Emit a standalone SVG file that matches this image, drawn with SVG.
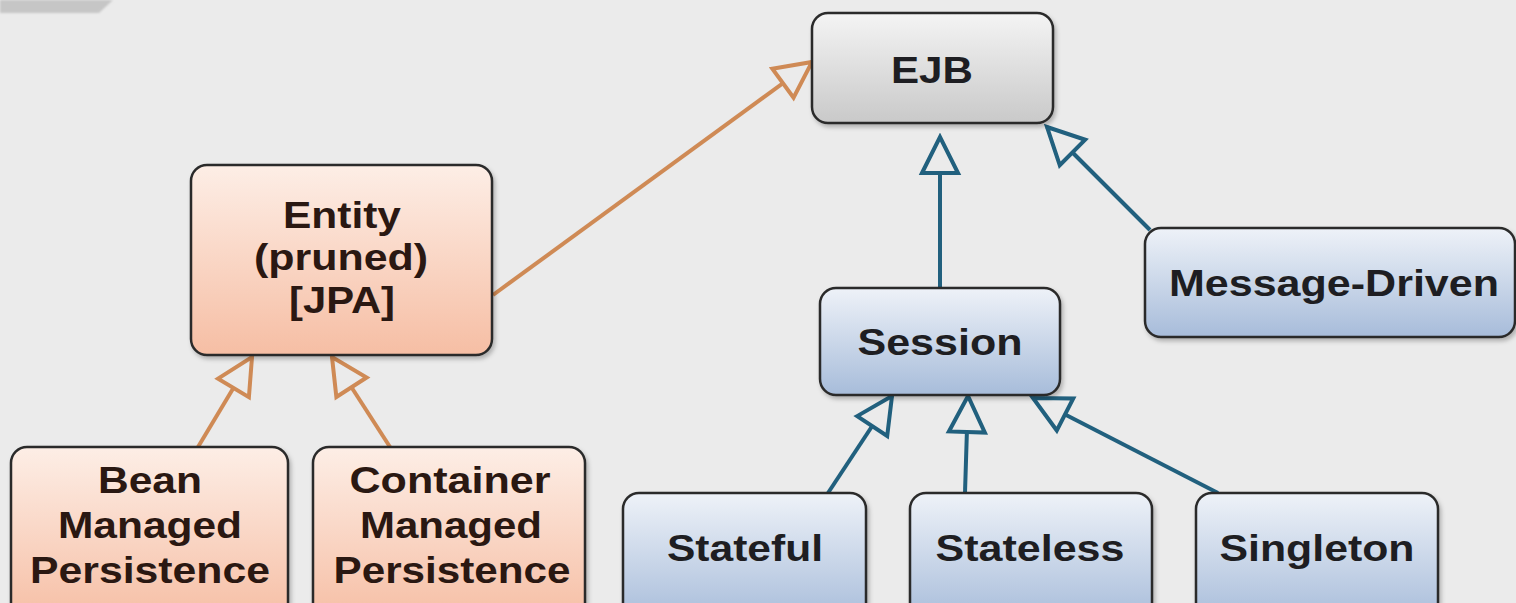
<svg xmlns="http://www.w3.org/2000/svg" width="1516" height="603" viewBox="0 0 1516 603">
  <defs>
    <linearGradient id="gGray" x1="0" y1="0" x2="0" y2="1">
      <stop offset="0" stop-color="#f4f4f4"/>
      <stop offset="1" stop-color="#c9c9c9"/>
    </linearGradient>
    <linearGradient id="gOrange" x1="0" y1="0" x2="0" y2="1">
      <stop offset="0" stop-color="#fdeee6"/>
      <stop offset="1" stop-color="#f6bea4"/>
    </linearGradient>
    <linearGradient id="gBlue" x1="0" y1="0" x2="0" y2="1">
      <stop offset="0" stop-color="#eef2f8"/>
      <stop offset="1" stop-color="#a7bcda"/>
    </linearGradient>
    <filter id="shadow" x="-10%" y="-10%" width="130%" height="130%">
      <feDropShadow dx="2" dy="3" stdDeviation="2" flood-color="#000" flood-opacity="0.25"/>
    </filter>
    <filter id="soft"><feGaussianBlur stdDeviation="1.2"/></filter>
    <marker id="triOrange" viewBox="-4 -4 44 44" markerWidth="44" markerHeight="44" refX="36" refY="18" orient="auto" markerUnits="userSpaceOnUse">
      <path d="M0,0 L36,18 L0,36 Z" fill="#ebebeb" stroke="#cf8a55" stroke-width="4" stroke-linejoin="miter"/>
    </marker>
    <marker id="triBlue" viewBox="-4 -4 44 44" markerWidth="44" markerHeight="44" refX="36" refY="18" orient="auto" markerUnits="userSpaceOnUse">
      <path d="M0,0 L36,18 L0,36 Z" fill="#ebebeb" stroke="#21607e" stroke-width="4" stroke-linejoin="miter"/>
    </marker>
  </defs>
  <style>
    .node { stroke: #2b2b2b; stroke-width: 2.5; filter: url(#shadow); }
    .gray { fill: url(#gGray); }
    .orange { fill: url(#gOrange); }
    .blue { fill: url(#gBlue); }
    .label { font-family: "Liberation Sans", Arial, sans-serif; font-weight: bold; font-size: 36px; text-anchor: middle; fill: #1e1e22; }
    .olabel { fill: #2a1812; }
    .edge { fill: none; stroke-width: 4; }
    .inh-o { stroke: #cf8a55; marker-end: url(#triOrange); }
    .inh-b { stroke: #21607e; marker-end: url(#triBlue); }
  </style>

  <!-- background -->
  <rect x="0" y="0" width="1516" height="603" fill="#ebebeb"/>
  <polygon points="0,0 113,0 99,13 0,13" fill="#c6c6c6" filter="url(#soft)"/>

  <!-- connectors: generalization arrows -->
  <g id="connectors">
    <line class="edge inh-o" x1="493" y1="295" x2="812" y2="62"/>
    <line class="edge inh-o" x1="198" y1="447" x2="252" y2="357"/>
    <line class="edge inh-o" x1="390" y1="447" x2="332" y2="357"/>
    <line class="edge inh-b" x1="940" y1="288" x2="940" y2="137"/>
    <line class="edge inh-b" x1="1150" y1="230" x2="1047" y2="127"/>
    <line class="edge inh-b" x1="828" y1="493" x2="892" y2="396"/>
    <line class="edge inh-b" x1="965" y1="493" x2="968" y2="396"/>
    <line class="edge inh-b" x1="1218" y1="493" x2="1033" y2="398"/>
  </g>

  <g id="ejb">
    <rect class="node gray" x="812" y="13" width="241" height="110" rx="16"/>
    <text class="label" x="932" y="83" textLength="82" lengthAdjust="spacingAndGlyphs">EJB</text>
  </g>

  <g id="entity">
    <rect class="node orange" x="191" y="165" width="301" height="190" rx="16"/>
    <text class="label olabel" x="342" y="228" textLength="118" lengthAdjust="spacingAndGlyphs">Entity</text>
    <text class="label olabel" x="341" y="270" textLength="174" lengthAdjust="spacingAndGlyphs">(pruned)</text>
    <text class="label olabel" x="342" y="313" textLength="106" lengthAdjust="spacingAndGlyphs">[JPA]</text>
  </g>

  <g id="bean-managed">
    <rect class="node orange" x="11" y="447" width="277" height="175" rx="16"/>
    <text class="label olabel" x="150" y="493" textLength="104" lengthAdjust="spacingAndGlyphs">Bean</text>
    <text class="label olabel" x="150" y="538" textLength="184" lengthAdjust="spacingAndGlyphs">Managed</text>
    <text class="label olabel" x="150" y="583" textLength="240" lengthAdjust="spacingAndGlyphs">Persistence</text>
  </g>

  <g id="container-managed">
    <rect class="node orange" x="313" y="447" width="272" height="175" rx="16"/>
    <text class="label olabel" x="450" y="493" textLength="201" lengthAdjust="spacingAndGlyphs">Container</text>
    <text class="label olabel" x="451" y="538" textLength="182" lengthAdjust="spacingAndGlyphs">Managed</text>
    <text class="label olabel" x="452" y="583" textLength="237" lengthAdjust="spacingAndGlyphs">Persistence</text>
  </g>

  <g id="session">
    <rect class="node blue" x="820" y="288" width="240" height="107" rx="16"/>
    <text class="label" x="940" y="355" textLength="165" lengthAdjust="spacingAndGlyphs">Session</text>
  </g>

  <g id="message-driven">
    <rect class="node blue" x="1145" y="228" width="370" height="109" rx="16"/>
    <text class="label" x="1334" y="296" textLength="330" lengthAdjust="spacingAndGlyphs">Message-Driven</text>
  </g>

  <g id="stateful">
    <rect class="node blue" x="623" y="493" width="243" height="130" rx="16"/>
    <text class="label" x="745" y="561" textLength="156" lengthAdjust="spacingAndGlyphs">Stateful</text>
  </g>

  <g id="stateless">
    <rect class="node blue" x="910" y="493" width="242" height="130" rx="16"/>
    <text class="label" x="1030" y="561" textLength="189" lengthAdjust="spacingAndGlyphs">Stateless</text>
  </g>

  <g id="singleton">
    <rect class="node blue" x="1196" y="493" width="242" height="130" rx="16"/>
    <text class="label" x="1317" y="561" textLength="195" lengthAdjust="spacingAndGlyphs">Singleton</text>
  </g>
</svg>
